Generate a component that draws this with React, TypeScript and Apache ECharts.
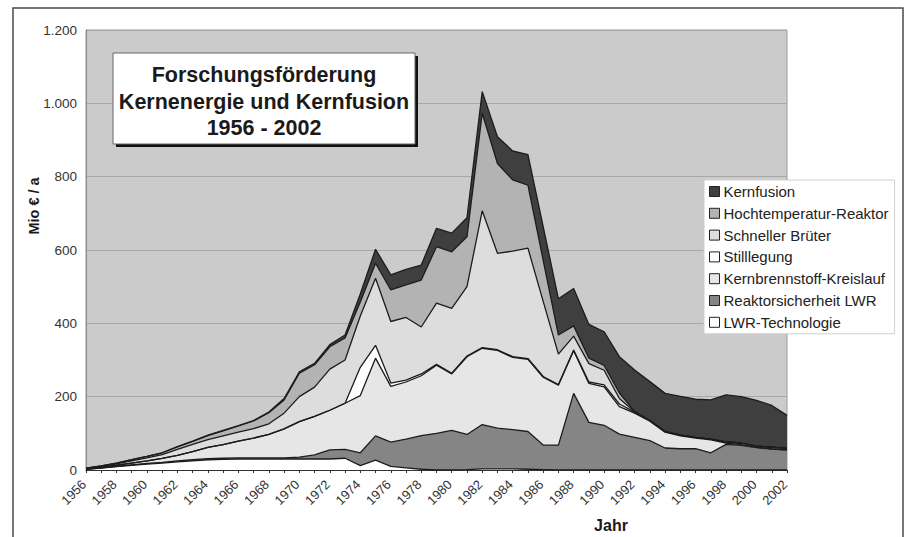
import React, { useEffect, useRef } from "react";
import * as echarts from "echarts";

const years = [
  "1956","1957","1958","1959","1960","1961","1962","1963","1964","1965",
  "1966","1967","1968","1969","1970","1971","1972","1973","1974","1975",
  "1976","1977","1978","1979","1980","1981","1982","1983","1984","1985",
  "1986","1987","1988","1989","1990","1991","1992","1993","1994","1995",
  "1996","1997","1998","1999","2000","2001","2002",
];

// Mio € / a
const lwrTechnologie = [
  2, 5, 9, 13, 16, 19, 22, 25, 28, 29,
  30, 30, 30, 30, 30, 30, 30, 32, 12, 27,
  10, 6, 2, 0, 0, 1, 3, 3, 3, 2,
  1, 0, 0, 0, 0, 0, 0, 0, 0, 0,
  0, 0, 0, 0, 0, 0, 0,
];
const reaktorsicherheit = [
  0, 1, 1, 1, 2, 2, 3, 3, 3, 3,
  3, 3, 3, 3, 5, 11, 25, 24, 35, 66,
  66, 78, 92, 100, 108, 96, 121, 111, 107, 103,
  67, 68, 209, 130, 122, 98, 89, 80, 60, 58,
  58, 47, 70, 67, 61, 57, 54,
];
const kernbrennstoff = [
  1, 1, 3, 5, 7, 11, 15, 22, 31, 37,
  46, 54, 64, 79, 97, 105, 108, 126, 156, 212,
  152, 156, 163, 186, 154, 212, 208, 212, 197, 197,
  185, 163, 116, 106, 105, 75, 66, 53, 43, 35,
  29, 35, 3, 2, 1, 1, 1,
];
const stilllegung = [
  0, 0, 0, 0, 0, 0, 0, 0, 0, 0,
  0, 0, 0, 0, 0, 0, 0, 0, 77, 35,
  9, 5, 5, 2, 2, 2, 2, 2, 2, 2,
  2, 2, 2, 4, 5, 7, 3, 2, 2, 2,
  2, 2, 4, 4, 3, 4, 4,
];
const schnellerBrueter = [
  1, 3, 4, 6, 8, 10, 16, 20, 21, 24,
  24, 26, 29, 43, 68, 80, 112, 118, 140, 183,
  168, 171, 128, 167, 177, 189, 373, 263, 288, 301,
  205, 83, 38, 50, 40, 15, 1, 0, 0, 0,
  0, 0, 0, 0, 0, 0, 0,
];
const hochtemperatur = [
  1, 1, 2, 3, 4, 5, 7, 8, 11, 14,
  17, 21, 30, 36, 64, 61, 61, 60, 38, 41,
  86, 89, 128, 154, 154, 136, 266, 245, 194, 172,
  112, 52, 28, 15, 13, 15, 1, 0, 0, 0,
  0, 0, 0, 0, 0, 0, 0,
];
const kernfusion = [
  0, 0, 0, 0, 0, 0, 1, 1, 1, 1,
  1, 1, 2, 4, 4, 4, 6, 8, 22, 38,
  41, 42, 41, 50, 51, 52, 59, 73, 79, 83,
  92, 99, 102, 92, 92, 99, 113, 106, 104, 106,
  104, 107, 128, 127, 125, 114, 90,
];

const seriesNames = [
  "LWR-Technologie",
  "Reaktorsicherheit LWR",
  "Kernbrennstoff-Kreislauf",
  "Stilllegung",
  "Schneller Brüter",
  "Hochtemperatur-Reaktor",
  "Kernfusion",
];
const seriesData = [
  lwrTechnologie,
  reaktorsicherheit,
  kernbrennstoff,
  stilllegung,
  schnellerBrueter,
  hochtemperatur,
  kernfusion,
];
const seriesColors = ["#ffffff", "#858585", "#e6e6e6", "#ffffff", "#dddddd", "#b3b3b3", "#3f3f3f"];

const titleLines = ["Forschungsförderung", "Kernenergie und Kernfusion", "1956 - 2002"];
const yAxisName = "Mio € / a";
const xAxisName = "Jahr";

const FONT = "'Liberation Sans', Arial, sans-serif";

function formatDe(v: number): string {
  if (v >= 1000) {
    const t = Math.floor(v / 1000);
    const r = String(v % 1000).padStart(3, "0");
    return `${t}.${r}`;
  }
  return String(v);
}

export default function App() {
  const ref = useRef<HTMLDivElement>(null);

  useEffect(() => {
    if (!ref.current) return;
    const chart = echarts.init(ref.current, null, { renderer: "svg" });

    const series = seriesNames.map((name, i) => ({
      name,
      type: "line",
      stack: "total",
      data: seriesData[i],
      showSymbol: false,
      symbol: "none",
      smooth: false,
      lineStyle: { color: "#1c1c1c", width: 1.3 },
      itemStyle: { color: seriesColors[i] },
      areaStyle: { color: seriesColors[i], opacity: 1 },
      z: 2,
    }));

    chart.setOption({
      animation: false,
      backgroundColor: "#ffffff",
      textStyle: { fontFamily: FONT },
      grid: {
        left: 86,
        top: 30,
        right: 122,
        bottom: 67,
        show: true,
        backgroundColor: "#cbcbcb",
        borderColor: "#9a9a9a",
        borderWidth: 1,
      },
      legend: {
        data: [...seriesNames].reverse(),
        orient: "vertical",
        left: 704,
        top: 180,
        width: 191,
        padding: [4, 6, 4, 5],
        backgroundColor: "#ffffff",
        borderColor: "#cfcfcf",
        borderWidth: 1,
        icon: "rect",
        itemWidth: 10,
        itemHeight: 10,
        itemGap: 6.8,
        itemStyle: { borderColor: "#222222", borderWidth: 1 },
        textStyle: { fontFamily: FONT, fontSize: 15, color: "#222", lineHeight: 15, padding: [0, 0, 0, -1] },
        selectedMode: false,
      },
      xAxis: {
        type: "category",
        data: years,
        boundaryGap: false,
        axisLine: { show: true, lineStyle: { color: "#333", width: 1.2 } },
        axisTick: { show: true, interval: 0, length: 3, lineStyle: { color: "#333" } },
        axisLabel: {
          interval: 1,
          rotate: 45,
          fontFamily: FONT,
          fontSize: 13,
          color: "#333",
          margin: 10,
          padding: [0, 3, 0, 0],
        },
        splitLine: { show: false },
      },
      yAxis: {
        type: "value",
        min: 0,
        max: 1200,
        interval: 200,
        axisLine: { show: true, lineStyle: { color: "#8a8a8a" } },
        axisTick: { show: false },
        axisLabel: {
          fontFamily: FONT,
          fontSize: 13.5,
          color: "#333",
          margin: 9,
          formatter: (v: number) => formatDe(v),
        },
        splitLine: { show: true, lineStyle: { color: "#a8a8a8", width: 1.2 } },
      },
      series,
      graphic: [
        {
          type: "rect",
          silent: true,
          z: 0,
          shape: { x: 13, y: 8, width: 890, height: 560 },
          style: { fill: "none", stroke: "#4a4a4a", lineWidth: 1.5 },
        },
        {
          type: "rect",
          z: 10,
          shape: { x: 116, y: 56, width: 302, height: 91 },
          style: { fill: "#111111" },
        },
        {
          type: "rect",
          z: 11,
          shape: { x: 113, y: 53, width: 302, height: 91 },
          style: { fill: "#ffffff", stroke: "#666", lineWidth: 1 },
        },
        ...titleLines.map((t, i) => ({
          type: "text",
          z: 12,
          x: 264,
          y: 75 + i * 26.5,
          style: {
            text: t,
            fontFamily: FONT,
            fontSize: 21.5,
            fontWeight: "bold",
            fill: "#1a1a1a",
            align: "center",
            verticalAlign: "middle",
            textAlign: "center",
            textVerticalAlign: "middle",
          },
        })),
        {
          type: "text",
          z: 12,
          x: 34,
          y: 206,
          rotation: Math.PI / 2,
          style: {
            text: yAxisName,
            fontFamily: FONT,
            fontSize: 14.5,
            fontWeight: "bold",
            fill: "#1a1a1a",
            align: "center",
            verticalAlign: "middle",
            textAlign: "center",
            textVerticalAlign: "middle",
          },
        },
        {
          type: "text",
          z: 12,
          x: 611,
          y: 525,
          style: {
            text: xAxisName,
            fontFamily: FONT,
            fontSize: 16,
            fontWeight: "bold",
            fill: "#1a1a1a",
            align: "center",
            verticalAlign: "middle",
            textAlign: "center",
            textVerticalAlign: "middle",
          },
        },
      ],
    });

    return () => {
      chart.dispose();
    };
  }, []);

  return (
    <div
      ref={ref}
      style={{ position: "fixed", left: 0, top: 0, width: 909, height: 537, background: "#fff" }}
    />
  );
}
